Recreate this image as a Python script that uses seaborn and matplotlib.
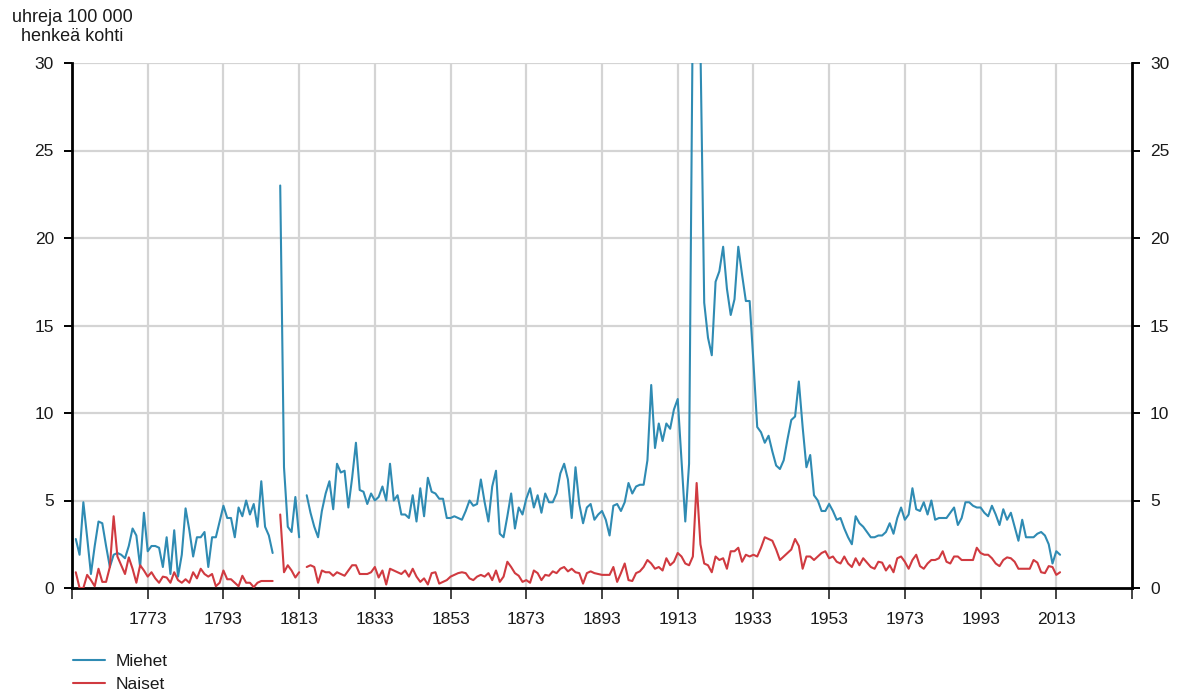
import numpy as np
import pandas as pd
import seaborn as sns
import matplotlib.pyplot as plt

# vuodet 1754-2014, puuttuvat vuodet (1807, 1814) = nan
years = list(range(1754, 2015))

miehet_1754_1806 = [2.8, 1.9, 4.9, 2.9, 0.8, 2.4, 3.8, 3.7, 2.4, 1.2,
                    1.9, 2.0, 1.9, 1.7, 2.4, 3.4, 3.0, 1.2, 4.3, 2.1,
                    2.4, 2.4, 2.3, 1.2, 2.9, 0.8, 3.3, 0.65, 1.9, 4.55,
                    3.3, 1.8, 2.9, 2.9, 3.2, 1.2, 2.9, 2.9, 3.8, 4.7,
                    4.0, 4.0, 2.9, 4.6, 4.1, 5.0, 4.2, 4.8, 3.5, 6.1,
                    3.5, 3.0, 2.0]
miehet_1807_1860 = [np.nan, 23.0, 6.9, 3.5, 3.2, 5.2, 2.9, np.nan, 5.3, 4.3,
                    3.5, 2.9, 4.4, 5.4, 6.1, 4.5, 7.1, 6.6, 6.7, 4.6,
                    6.3, 8.3, 5.6, 5.5, 4.8, 5.4, 5.0, 5.2, 5.8, 5.0,
                    7.1, 5.0, 5.3, 4.2, 4.2, 4.0, 5.3, 3.8, 5.7, 4.1,
                    6.3, 5.5, 5.4, 5.1, 5.1, 4.0, 4.0, 4.1, 4.0, 3.9,
                    4.4, 5.0, 4.7, 4.8]
miehet_1861_1920 = [6.2, 4.9, 3.8, 5.8, 6.7, 3.1, 2.9, 4.1, 5.4, 3.4,
                    4.6, 4.2, 5.1, 5.7, 4.6, 5.3, 4.3, 5.4, 4.9, 4.9,
                    5.4, 6.55, 7.1, 6.2, 4.0, 6.9, 4.8, 3.7, 4.6, 4.8,
                    3.9, 4.2, 4.4, 3.9, 3.0, 4.7, 4.8, 4.4, 4.9, 6.0,
                    5.4, 5.8, 5.9, 5.9, 7.3, 11.6, 8.0, 9.4, 8.4, 9.4,
                    9.1, 10.2, 10.8, 7.3, 3.8, 7.1, 33.0, 150.0, 31.0, 16.3]
miehet_1921_1970 = [14.3, 13.3, 17.5, 18.1, 19.5, 17.1, 15.6, 16.5, 19.5, 17.9,
                    16.4, 16.4, 12.9, 9.2, 8.9, 8.3, 8.7, 7.8, 7.0, 6.8,
                    7.3, 8.5, 9.6, 9.8, 11.8, 9.2, 6.9, 7.6, 5.3, 5.0,
                    4.4, 4.4, 4.8, 4.4, 3.9, 4.0, 3.4, 2.9, 2.5, 4.1,
                    3.7, 3.5, 3.2, 2.9, 2.9, 3.0, 3.0, 3.2, 3.7, 3.1]
miehet_1971_2014 = [4.0, 4.6, 3.9, 4.2, 5.7, 4.5, 4.4, 4.9, 4.2, 5.0,
                    3.9, 4.0, 4.0, 4.0, 4.3, 4.6, 3.6, 4.0, 4.9, 4.9,
                    4.7, 4.6, 4.6, 4.3, 4.1, 4.7, 4.2, 3.6, 4.5, 3.9,
                    4.3, 3.5, 2.7, 3.9, 2.9, 2.9, 2.9, 3.1, 3.2, 3.0,
                    2.5, 1.4, 2.1, 1.9]

naiset_1754_1806 = [0.9, 0.0, 0.0, 0.75, 0.45, 0.1, 1.1, 0.35, 0.35, 1.2,
                    4.1, 1.8, 1.3, 0.8, 1.75, 1.1, 0.3, 1.3, 1.0, 0.65,
                    0.9, 0.55, 0.3, 0.65, 0.6, 0.3, 0.9, 0.45, 0.3, 0.5,
                    0.3, 0.9, 0.55, 1.1, 0.8, 0.65, 0.8, 0.1, 0.3, 1.0,
                    0.5, 0.5, 0.3, 0.1, 0.7, 0.3, 0.3, 0.05, 0.3, 0.4,
                    0.4, 0.4, 0.4]
naiset_1807_1860 = [np.nan, 4.2, 0.9, 1.3, 1.0, 0.6, 0.9, np.nan, 1.2, 1.3,
                    1.2, 0.3, 1.0, 0.9, 0.9, 0.7, 0.9, 0.8, 0.7, 1.0,
                    1.3, 1.3, 0.8, 0.8, 0.8, 0.9, 1.2, 0.6, 1.0, 0.2,
                    1.1, 1.0, 0.9, 0.8, 1.0, 0.65, 1.1, 0.65, 0.35, 0.55,
                    0.2, 0.85, 0.9, 0.25, 0.35, 0.45, 0.65, 0.75, 0.85, 0.9,
                    0.85, 0.55, 0.45, 0.65]
naiset_1861_1920 = [0.75, 0.65, 0.85, 0.45, 1.0, 0.35, 0.65, 1.5, 1.2, 0.85,
                    0.7, 0.35, 0.45, 0.3, 1.0, 0.85, 0.45, 0.75, 0.7, 0.95,
                    0.85, 1.1, 1.2, 0.95, 1.1, 0.9, 0.85, 0.25, 0.85, 0.95,
                    0.85, 0.8, 0.75, 0.75, 0.75, 1.2, 0.35, 0.85, 1.4, 0.45,
                    0.4, 0.85, 0.95, 1.2, 1.6, 1.4, 1.1, 1.2, 1.0, 1.7,
                    1.3, 1.5, 2.0, 1.8, 1.4, 1.3, 1.8, 6.0, 2.5, 1.4]
naiset_1921_1970 = [1.3, 0.9, 1.8, 1.6, 1.7, 1.1, 2.1, 2.1, 2.3, 1.5,
                    1.9, 1.8, 1.9, 1.8, 2.3, 2.9, 2.8, 2.7, 2.2, 1.6,
                    1.8, 2.0, 2.2, 2.8, 2.4, 1.1, 1.8, 1.8, 1.6, 1.8,
                    2.0, 2.1, 1.7, 1.8, 1.5, 1.4, 1.8, 1.4, 1.2, 1.7,
                    1.3, 1.7, 1.45, 1.2, 1.1, 1.5, 1.45, 1.0, 1.3, 0.9]
naiset_1971_2014 = [1.7, 1.8, 1.5, 1.1, 1.6, 1.9, 1.25, 1.1, 1.4, 1.6,
                    1.6, 1.7, 2.1, 1.5, 1.4, 1.8, 1.8, 1.6, 1.6, 1.6,
                    1.6, 2.3, 2.0, 1.9, 1.9, 1.7, 1.4, 1.25, 1.6, 1.75,
                    1.7, 1.5, 1.1, 1.1, 1.1, 1.1, 1.6, 1.45, 0.9, 0.85,
                    1.25, 1.2, 0.75, 0.9]

miehet = miehet_1754_1806 + miehet_1807_1860 + miehet_1861_1920 + miehet_1921_1970 + miehet_1971_2014
naiset = naiset_1754_1806 + naiset_1807_1860 + naiset_1861_1920 + naiset_1921_1970 + naiset_1971_2014

tick_years = list(range(1753, 2034, 20))
y_ticks = [0, 5, 10, 15, 20, 25, 30]

df = pd.DataFrame({'vuosi': years, 'Miehet': miehet, 'Naiset': naiset})
data = df.melt(id_vars='vuosi', var_name='sukupuoli', value_name='arvo')
# katkaistaan viiva puuttuvien vuosien kohdalta
data['jakso'] = data.groupby('sukupuoli')['arvo'].transform(lambda s: s.isna().cumsum())
data = data.dropna()

sns.set_style('white')
plt.rcParams['font.family'] = ['Liberation Sans', 'DejaVu Sans']
plt.rcParams['text.color'] = '#1a1a1a'
plt.rcParams['xtick.labelcolor'] = '#1a1a1a'
plt.rcParams['ytick.labelcolor'] = '#1a1a1a'

fig = plt.figure(figsize=(11.79, 6.93), dpi=100)
ax = fig.add_axes([72 / 1179, 1 - 588 / 693, (1132 - 72) / 1179, (588 - 63) / 693])

sns.lineplot(data=data, x='vuosi', y='arvo', hue='sukupuoli', units='jakso',
             estimator=None, palette={'Miehet': '#2f8bb3', 'Naiset': '#d03a40'},
             linewidth=1.5, ax=ax, zorder=3)

ax.set_xlim(1753, 2033)
ax.set_ylim(0, 30)
ax.set_xticks(tick_years)
ax.set_xticklabels([''] + [str(t) for t in tick_years[1:-1]] + [''])
ax.set_yticks(y_ticks)
ax.set_xlabel('')
ax.set_ylabel('')

# ruudukko
for t in tick_years[1:-1]:
    ax.axvline(t, color='#d4d4d4', lw=1.6, zorder=1)
for v in y_ticks[1:]:
    ax.axhline(v, color='#d4d4d4', lw=1.6, zorder=1)

for side in ['left', 'right', 'bottom']:
    ax.spines[side].set_color('black')
    ax.spines[side].set_linewidth(2)
ax.spines['top'].set_visible(False)

ax.tick_params(axis='x', direction='out', length=8, width=1.4, color='#444444',
               labelsize=12.5, pad=9, bottom=True)
ax.tick_params(axis='y', direction='out', length=6, width=1.4, color='black',
               labelsize=12.5, pad=7, left=True)

ax2 = ax.twinx()
ax2.set_ylim(0, 30)
ax2.set_yticks(y_ticks)
ax2.tick_params(axis='y', direction='out', length=6, width=1.4, color='black',
                labelsize=12.5, pad=7, right=True)
for side in ['left', 'right', 'bottom', 'top']:
    ax2.spines[side].set_visible(False)

fig.text(72 / 1179, 1 - 27 / 693, 'uhreja 100 000\nhenkeä kohti', ha='center',
         va='center', fontsize=13, multialignment='center', linespacing=1.2)

sns.move_legend(ax, 'upper left', bbox_to_anchor=(70 / 1179, 1 - 650 / 693),
                bbox_transform=fig.transFigure, frameon=False, title=None,
                fontsize=12.5, handlelength=1.8, handletextpad=0.6,
                labelspacing=0.45, borderaxespad=0, borderpad=0.2)

fig.savefig('out.png', dpi=100)
